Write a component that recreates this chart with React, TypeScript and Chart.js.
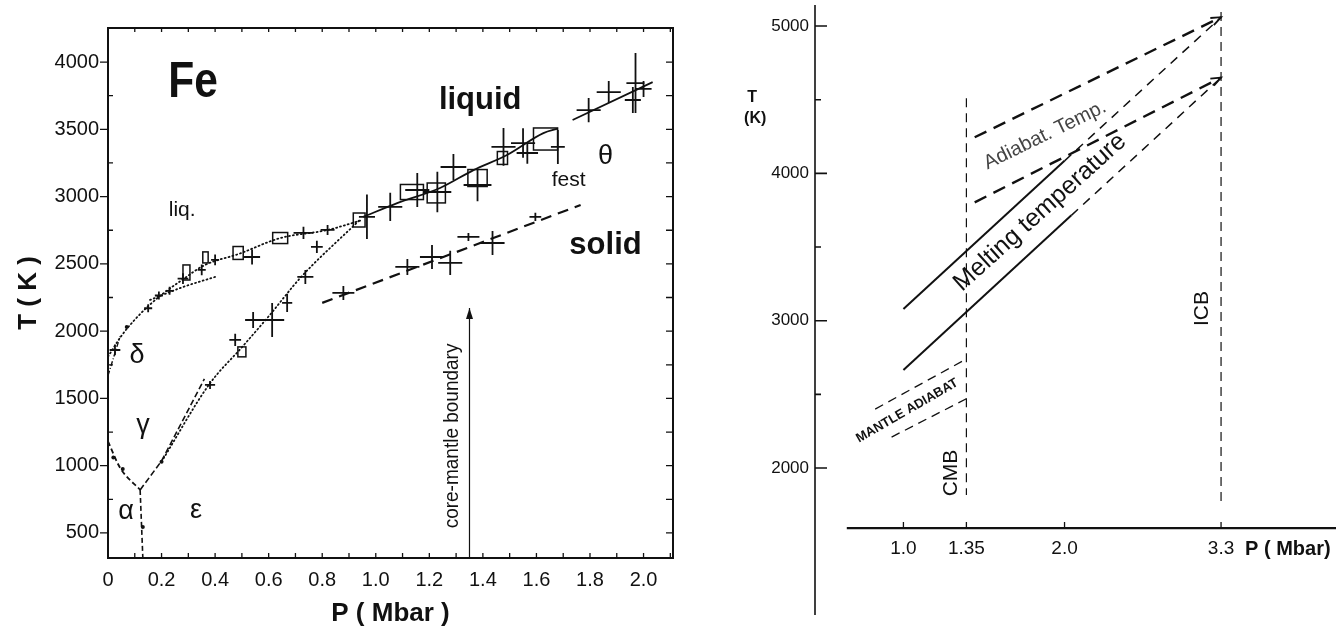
import React, { useEffect, useRef } from 'react';
import { Chart, registerables, LinearScale } from 'chart.js';

Chart.register(...registerables);

// Square-root pressure axis used by the schematic right-hand panel
class SqrtScale extends (LinearScale as any) {
  static id = 'sqrt';
  getPixelForValue(value: number) {
    const a = Math.sqrt(this.min), b = Math.sqrt(this.max);
    return this.getPixelForDecimal((Math.sqrt(Math.max(value, 0)) - a) / (b - a));
  }
  getValueForPixel(pixel: number) {
    const a = Math.sqrt(this.min), b = Math.sqrt(this.max);
    const s = a + this.getDecimalForPixel(pixel) * (b - a);
    return s * s;
  }
}
Chart.register(SqrtScale as any);

const FONT = '"Liberation Sans", Arial, Helvetica, sans-serif';
const INK = '#111';

// ---------------- LEFT PANEL: Fe phase diagram (P in Mbar, T in K) ----------------
const leftXTicks = [0, 0.1, 0.2, 0.3, 0.4, 0.5, 0.6, 0.7, 0.8, 0.9, 1.0, 1.1, 1.2, 1.3, 1.4, 1.5, 1.6, 1.7, 1.8, 1.9, 2.0, 2.1];
const leftYTicks = [500, 750, 1000, 1250, 1500, 1750, 2000, 2250, 2500, 2750, 3000, 3250, 3500, 3750, 4000, 4250];

const meltCurve = [[0, 1810], [0.05, 1965], [0.1, 2085], [0.15, 2185], [0.2, 2270], [0.28, 2385], [0.36, 2490], [0.49, 2575], [0.64, 2690], [0.82, 2752], [0.95, 2826]];
const meltCurveLow = [[0.157, 2232], [0.28, 2328], [0.4, 2403]];
const deltaGamma = [[0, 1670], [0.045, 1960]];
const gammaAlpha = [[0, 1180], [0.045, 985], [0.12, 820]];
const alphaEps = [[0.12, 820], [0.13, 320]];
const gammaEpsDash = [[0.12, 820], [0.2, 1035], [0.36, 1645]];
const gammaEpsDot = [[0.2, 1030], [0.38, 1610], [0.5, 1880], [0.6, 2110], [0.72, 2400], [0.94, 2826]];
const highMelt = [[0.953, 2849], [1.08, 2952], [1.24, 3064], [1.365, 3197], [1.49, 3309], [1.626, 3472], [1.68, 3505], [1.71, null], [1.735, 3569], [2.034, 3851]];
const solidBoundary = [[0.8, 2210], [1.765, 2938]];
const cmbArrow = [[1.35, 315], [1.35, 2172]];

// error crosses: [P, T, ±P, ±T]
const lowCrosses = [
  [0.026, 1860, 0.02, 40], [0.15, 2170, 0.015, 30], [0.19, 2265, 0.015, 30], [0.23, 2300, 0.015, 30],
  [0.28, 2390, 0.02, 40], [0.35, 2455, 0.015, 40], [0.4, 2530, 0.015, 40], [0.538, 2551, 0.03, 55],
  [0.73, 2730, 0.037, 45], [0.82, 2752, 0.026, 37],
  [0.381, 1600, 0.019, 30], [0.475, 1935, 0.022, 45], [0.542, 2083, 0.03, 60], [0.613, 2083, 0.045, 126],
  [0.669, 2210, 0.019, 67], [0.737, 2403, 0.03, 52], [0.78, 2626, 0.022, 45],
];
const highCrosses = [
  [0.967, 2850, 0.03, 165], [1.054, 2923, 0.045, 105], [1.155, 3049, 0.045, 126], [1.23, 3034, 0.052, 150],
  [1.29, 3220, 0.048, 97], [1.38, 3086, 0.052, 120], [1.477, 3369, 0.045, 140], [1.55, 3398, 0.045, 110],
  [1.566, 3324, 0.04, 80], [1.68, 3369, 0.026, 126], [1.795, 3643, 0.045, 90], [1.87, 3777, 0.045, 82],
  [1.97, 3844, 0.034, 223], [1.96, 3718, 0.03, 97], [2.0, 3800, 0.03, 60],
];
const solidCrosses = [
  [0.879, 2284, 0.041, 52], [1.118, 2477, 0.045, 60], [1.21, 2551, 0.045, 90], [1.278, 2507, 0.045, 90],
  [1.346, 2700, 0.041, 30], [1.436, 2655, 0.045, 90], [1.596, 2849, 0.022, 30],
];
// open boxes: [P, T, ±P, ±T]
const boxes = [
  [0.293, 2436, 0.013, 56], [0.364, 2548, 0.01, 41], [0.486, 2581, 0.019, 48], [0.643, 2692, 0.028, 41],
  [0.938, 2826, 0.022, 52], [0.5, 1846, 0.015, 37], [1.135, 3034, 0.043, 56], [1.226, 3027, 0.034, 74],
  [1.38, 3138, 0.036, 63], [1.473, 3287, 0.019, 48], [1.634, 3428, 0.045, 82],
];
const dots = [[0.02, 1060], [0.055, 975], [0.13, 545], [0.2, 1030], [0.07, 2030]];

const leftNotes = [
  { text: 'Fe', p: 0.318, t: 3844, size: 50, bold: true, sx: 0.85 },
  { text: 'liq.', p: 0.277, t: 2900, size: 21 },
  { text: 'liquid', p: 1.39, t: 3718, size: 31, bold: true },
  { text: 'solid', p: 1.858, t: 2640, size: 31, bold: true },
  { text: 'θ', p: 1.858, t: 3294, size: 27 },
  { text: 'fest', p: 1.72, t: 3123, size: 21 },
  { text: 'δ', p: 0.108, t: 1816, size: 27 },
  { text: 'γ', p: 0.131, t: 1296, size: 27 },
  { text: 'α', p: 0.067, t: 657, size: 27 },
  { text: 'ε', p: 0.329, t: 664, size: 27 },
  { text: 'core-mantle boundary', p: 1.286, t: 1221, size: 20, rot: -90, sx: 0.95 },
];
const leftXLabel = (v: number) => { const r = Math.round(v * 10); return r % 2 ? '' : r === 0 ? '0' : (r / 10).toFixed(1); };
const leftYLabel = (v: number) => (v % 500 === 0 && v <= 4000 ? String(v) : '');

// ---------------- RIGHT PANEL: schematic core temperatures ----------------
const rightYTicks = [2000, 2500, 3000, 3500, 4000, 4500, 5000];
const cmbLine = [[1.35, 4510], [1.35, 1816]];
const icbLine = [[3.3, 5095], [3.3, 1770]];
const meltUpperSolid = [[1.0, 3080], [2.0, 4085]];
const meltUpperDashed = [[2.0, 4085], [3.3, 5060]];
const meltLowerSolid = [[1.0, 2665], [2.05, 3715]];
const meltLowerDashed = [[2.05, 3715], [3.3, 4650]];
const adiabatUpper = [[1.4, 4245], [3.3, 5060]];
const adiabatLower = [[1.4, 3803], [3.3, 4650]];
const mantleUpper = [[0.86, 2400], [1.35, 2740]];
const mantleLower = [[0.94, 2210], [1.35, 2470]];
const rightXTicks = [1.0, 1.35, 2.0, 3.3];
const rightXLabels = ['1.0', '1.35', '2.0', '3.3'];
const rightAxisT = 1592;
const rightAxisFromP = 0.73;
const rightYLabel = (v: number) => (v % 1000 === 0 ? String(v) : '');

const rightNotes = [
  { text: 'Melting temperature', p: 1.826, t: 3735, size: 25, rot: -42 },
  { text: 'Adiabat. Temp.', p: 1.861, t: 4259, size: 20, rot: -26, color: '#444' },
  { text: 'MANTLE ADIABAT', p: 1.019, t: 2388, size: 13, bold: true, rot: -30 },
  { text: 'CMB', p: 1.26, t: 1966, size: 21, rot: -90 },
  { text: 'ICB', p: 3.126, t: 3082, size: 21, rot: -90 },
  { text: 'T', p: 0.373, t: 4517, size: 16, bold: true },
  { text: '(K)', p: 0.383, t: 4374, size: 16, bold: true },
];

// ---------------- helpers ----------------
const pts = (arr: any[]) => arr.map(([x, y]) => ({ x, y }));
const line = (data: any[], o: any = {}) => ({
  data: pts(data), showLine: true, pointRadius: 0, borderColor: INK, borderWidth: 1.5, fill: false, ...o,
});
const dotted = { borderDash: [1, 3], borderWidth: 1.8, borderCapStyle: 'round', cubicInterpolationMode: 'monotone' };
const setTicks = (list: number[]) => (s: any) => { s.ticks = list.map((value) => ({ value })); };

function drawText(ctx: any, n: any, x: number, y: number) {
  ctx.save();
  ctx.translate(x, y);
  if (n.rot) ctx.rotate((n.rot * Math.PI) / 180);
  if (n.sx) ctx.scale(n.sx, 1);
  ctx.font = `${n.bold ? 'bold ' : ''}${n.size}px ${FONT}`;
  ctx.fillStyle = n.color || INK;
  ctx.textAlign = n.align || 'center';
  ctx.textBaseline = 'middle';
  ctx.fillText(n.text, 0, 0);
  ctx.restore();
}

const zeroPad = (s: any) => { s.paddingTop = 0; s.paddingBottom = 0; s.paddingLeft = 0; s.paddingRight = 0; };

const leftPlugin = {
  id: 'leftDecor',
  afterDatasetsDraw(chart: any) {
    const { ctx, chartArea: a } = chart;
    const xs = chart.scales.x, ys = chart.scales.y;
    ctx.save();
    ctx.strokeStyle = INK;
    ctx.lineWidth = 2;
    ctx.strokeRect(a.left, a.top, a.right - a.left, a.bottom - a.top);
    ctx.lineWidth = 1.3;
    ctx.beginPath();
    leftXTicks.forEach((v) => {
      const px = xs.getPixelForValue(v);
      if (px <= a.left + 1) return;
      ctx.moveTo(px, a.bottom); ctx.lineTo(px, a.bottom - 5);
      ctx.moveTo(px, a.top); ctx.lineTo(px, a.top + 4);
    });
    leftYTicks.forEach((v) => {
      const py = ys.getPixelForValue(v);
      if (v % 500 === 0) { ctx.moveTo(a.left - 8, py); ctx.lineTo(a.left, py); }
      else { ctx.moveTo(a.left, py); ctx.lineTo(a.left + 5, py); }
      ctx.moveTo(a.right, py); ctx.lineTo(a.right - 7, py);
    });
    ctx.stroke();
    leftYTicks.forEach((v) => {
      const s = leftYLabel(v);
      if (s) drawText(ctx, { text: s, size: 20, align: 'right' }, a.left - 9, ys.getPixelForValue(v));
    });

    // arrow head of core-mantle boundary
    const tip = cmbArrow[1];
    const ax = xs.getPixelForValue(tip[0]), ay = ys.getPixelForValue(tip[1]);
    ctx.fillStyle = INK;
    ctx.beginPath();
    ctx.moveTo(ax, ay); ctx.lineTo(ax - 3.5, ay + 11); ctx.lineTo(ax + 3.5, ay + 11); ctx.closePath();
    ctx.fill();

    // error crosses
    ctx.lineWidth = 1.8;
    ctx.beginPath();
    [...lowCrosses, ...highCrosses, ...solidCrosses].forEach(([p, t, dp, dt]) => {
      const x = xs.getPixelForValue(p), y = ys.getPixelForValue(t);
      ctx.moveTo(xs.getPixelForValue(p - dp), y); ctx.lineTo(xs.getPixelForValue(p + dp), y);
      ctx.moveTo(x, ys.getPixelForValue(t - dt)); ctx.lineTo(x, ys.getPixelForValue(t + dt));
    });
    ctx.stroke();
    // boxes
    ctx.lineWidth = 1.5;
    boxes.forEach(([p, t, dp, dt]) => {
      const x0 = xs.getPixelForValue(p - dp), x1 = xs.getPixelForValue(p + dp);
      const y0 = ys.getPixelForValue(t + dt), y1 = ys.getPixelForValue(t - dt);
      ctx.strokeRect(x0, y0, x1 - x0, y1 - y0);
    });
    // dots
    dots.forEach(([p, t]) => {
      ctx.beginPath();
      ctx.arc(xs.getPixelForValue(p), ys.getPixelForValue(t), 2, 0, Math.PI * 2);
      ctx.fill();
    });
    leftNotes.forEach((n) => drawText(ctx, n, xs.getPixelForValue(n.p), ys.getPixelForValue(n.t)));
    ctx.restore();
  },
};

const rightPlugin = {
  id: 'rightDecor',
  afterDatasetsDraw(chart: any) {
    const { ctx, chartArea: a } = chart;
    const xs = chart.scales.x, ys = chart.scales.y;
    ctx.save();
    ctx.strokeStyle = INK;
    ctx.lineWidth = 1.6;
    ctx.beginPath();
    ctx.moveTo(a.left, a.top); ctx.lineTo(a.left, a.bottom);
    rightYTicks.forEach((v) => {
      const py = ys.getPixelForValue(v);
      ctx.moveTo(a.left, py); ctx.lineTo(a.left + (v % 1000 === 0 ? 12 : 6), py);
    });
    ctx.stroke();
    rightYTicks.forEach((v) => {
      const s = rightYLabel(v);
      if (s) drawText(ctx, { text: s, size: 17, align: 'right' }, a.left - 6, ys.getPixelForValue(v));
    });

    // schematic pressure axis
    const ay = ys.getPixelForValue(rightAxisT);
    ctx.lineWidth = 2.2;
    ctx.beginPath();
    ctx.moveTo(xs.getPixelForValue(rightAxisFromP), ay); ctx.lineTo(a.right, ay);
    ctx.stroke();
    ctx.lineWidth = 1.3;
    ctx.beginPath();
    rightXTicks.forEach((v) => { const px = xs.getPixelForValue(v); ctx.moveTo(px, ay); ctx.lineTo(px, ay - 6); });
    ctx.stroke();
    rightXTicks.forEach((v, i) => drawText(ctx, { text: rightXLabels[i], size: 19 }, xs.getPixelForValue(v), ay + 21));
    drawText(ctx, { text: 'P ( Mbar)', size: 20, bold: true, align: 'left' }, xs.getPixelForValue(3.3) + 24, ay + 21);

    // arrow heads where the adiabats reach the ICB
    ctx.lineWidth = 1.8;
    [adiabatUpper, adiabatLower].forEach((d) => {
      const [p0, p1] = d;
      const x0 = xs.getPixelForValue(p0[0]), y0 = ys.getPixelForValue(p0[1]);
      const x1 = xs.getPixelForValue(p1[0]), y1 = ys.getPixelForValue(p1[1]);
      const L = Math.hypot(x1 - x0, y1 - y0), ux = (x1 - x0) / L, uy = (y1 - y0) / L;
      ctx.beginPath();
      ctx.moveTo(x1 - 10 * ux - 4 * uy, y1 - 10 * uy + 4 * ux);
      ctx.lineTo(x1, y1);
      ctx.lineTo(x1 - 10 * ux + 4 * uy, y1 - 10 * uy - 4 * ux);
      ctx.stroke();
    });
    rightNotes.forEach((n) => drawText(ctx, n, xs.getPixelForValue(n.p), ys.getPixelForValue(n.t)));
    ctx.restore();
  },
};

function leftConfig(): any {
  return {
    type: 'scatter',
    data: {
      datasets: [
        line(meltCurve, dotted),
        line(meltCurveLow, dotted),
        line(gammaEpsDot, dotted),
        line(deltaGamma, { borderDash: [5, 2, 1, 2], borderWidth: 1.4 }),
        line(gammaAlpha, { borderDash: [5, 3], borderWidth: 1.8, cubicInterpolationMode: 'monotone' }),
        line(alphaEps, { borderDash: [5, 3], borderWidth: 1.6 }),
        line(gammaEpsDash, { borderDash: [6, 3], borderWidth: 1.6 }),
        line(highMelt, { borderWidth: 1.8, cubicInterpolationMode: 'monotone' }),
        line(solidBoundary, { borderDash: [11, 7], borderWidth: 2.2 }),
        line(cmbArrow, { borderWidth: 1.2 }),
      ],
    },
    options: {
      responsive: false,
      animation: false,
      events: [],
      layout: { padding: { top: 28, right: 47, bottom: 0, left: 0 } },
      plugins: { legend: { display: false }, tooltip: { enabled: false } },
      scales: {
        x: {
          type: 'linear', min: 0, max: 2.11, bounds: 'data',
          grid: { display: false, drawTicks: false }, border: { display: false },
          afterBuildTicks: setTicks(leftXTicks),
          ticks: {
            autoSkip: false, maxRotation: 0, padding: 10,
            color: INK, font: { family: FONT, size: 20 },
            callback: (v: number) => leftXLabel(v),
          },
          title: { display: true, text: 'P ( Mbar )', color: INK, font: { family: FONT, size: 26, weight: 'bold' }, padding: { top: 0, bottom: 7 } },
          afterFit: (s: any) => { s.height = 78; zeroPad(s); },
        },
        y: {
          type: 'linear', min: 314, max: 4253, bounds: 'data',
          grid: { display: false, drawTicks: false }, border: { display: false },
          afterBuildTicks: setTicks(leftYTicks),
          ticks: { display: false },
          title: { display: true, text: 'T ( K )', color: INK, font: { family: FONT, size: 26, weight: 'bold' }, padding: { top: 13, bottom: 0 } },
          afterFit: (s: any) => { s.width = 108; zeroPad(s); },
        },
      },
    },
    plugins: [leftPlugin],
  };
}

function rightConfig(): any {
  const thinDash = { borderDash: [9, 6], borderWidth: 1.2 };
  return {
    type: 'scatter',
    data: {
      datasets: [
        line(cmbLine, thinDash),
        line(icbLine, thinDash),
        line(meltUpperSolid, { borderWidth: 2 }),
        line(meltUpperDashed, { borderDash: [9, 7], borderWidth: 1.5 }),
        line(meltLowerSolid, { borderWidth: 2 }),
        line(meltLowerDashed, { borderDash: [9, 7], borderWidth: 1.5 }),
        line(adiabatUpper, { borderDash: [13, 8], borderWidth: 2.4 }),
        line(adiabatLower, { borderDash: [13, 8], borderWidth: 2.4 }),
        line(mantleUpper, { borderDash: [9, 6], borderWidth: 1.3 }),
        line(mantleLower, { borderDash: [9, 6], borderWidth: 1.3 }),
      ],
    },
    options: {
      responsive: false,
      animation: false,
      events: [],
      layout: { padding: { top: 5, right: 5, bottom: 21, left: 0 } },
      plugins: { legend: { display: false }, tooltip: { enabled: false } },
      scales: {
        x: {
          type: 'sqrt', min: 0.597, max: 4.461, bounds: 'data', display: false,
          afterFit: (s: any) => zeroPad(s),
        },
        y: {
          type: 'linear', min: 1002, max: 5143, bounds: 'data',
          grid: { display: false, drawTicks: false }, border: { display: false },
          afterBuildTicks: setTicks(rightYTicks),
          ticks: { display: false },
          afterFit: (s: any) => { s.width = 95; zeroPad(s); },
        },
      },
    },
    plugins: [rightPlugin],
  };
}

export default function App() {
  const leftRef = useRef<HTMLCanvasElement>(null);
  const rightRef = useRef<HTMLCanvasElement>(null);
  useEffect(() => {
    const l = new Chart(leftRef.current as HTMLCanvasElement, leftConfig());
    const r = new Chart(rightRef.current as HTMLCanvasElement, rightConfig());
    return () => { l.destroy(); r.destroy(); };
  }, []);
  return (
    <div style={{ position: 'fixed', left: 0, top: 0, width: 1341, height: 636, background: '#fff', overflow: 'hidden' }}>
      <canvas ref={leftRef} width={720} height={636} style={{ position: 'absolute', left: 0, top: 0, width: 720, height: 636 }} />
      <canvas ref={rightRef} width={621} height={636} style={{ position: 'absolute', left: 720, top: 0, width: 621, height: 636 }} />
    </div>
  );
}
